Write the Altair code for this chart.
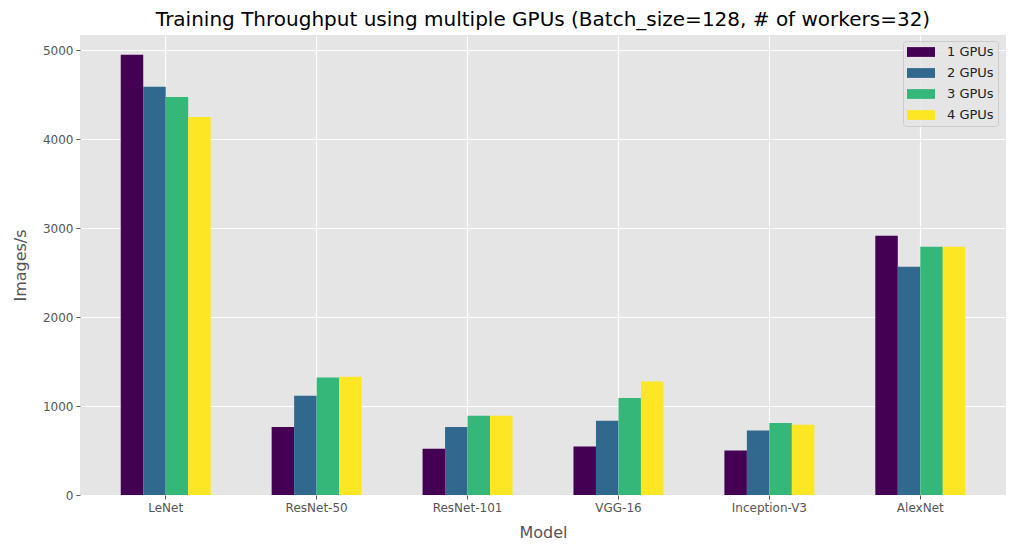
import altair as alt
import pandas as pd

# values
models = ["LeNet", "ResNet-50", "ResNet-101", "VGG-16", "Inception-V3", "AlexNet"]
gpu_labels = ["1 GPUs", "2 GPUs", "3 GPUs", "4 GPUs"]
gpu1 = [4950, 765, 520, 545, 500, 2915]
gpu2 = [4590, 1115, 765, 835, 725, 2565]
gpu3 = [4475, 1320, 890, 1090, 810, 2790]
gpu4 = [4250, 1330, 890, 1275, 790, 2790]
colors = ["#440154", "#31688e", "#35b779", "#fde725"]

rows = []
for label, series in zip(gpu_labels, [gpu1, gpu2, gpu3, gpu4]):
    for m, v in zip(models, series):
        rows.append({"Model": m, "GPUs": label, "Images/s": v})
df = pd.DataFrame(rows)

font = "DejaVu Sans"

chart = alt.Chart(df).mark_bar().encode(
    x=alt.X("Model:N", sort=models,
            scale=alt.Scale(paddingInner=0.404, paddingOuter=0.27),
            axis=alt.Axis(labelAngle=0, title="Model")),
    xOffset=alt.XOffset("GPUs:N", sort=gpu_labels),
    y=alt.Y("Images/s:Q", scale=alt.Scale(domain=[0, 5172], nice=False),
            axis=alt.Axis(values=[0, 1000, 2000, 3000, 4000, 5000], format="d",
                          title="Images/s")),
    color=alt.Color("GPUs:N", sort=gpu_labels,
                    scale=alt.Scale(domain=gpu_labels, range=colors),
                    legend=alt.Legend(title=None, orient="none", legendX=823, legendY=6,
                                      symbolType="M-1,-0.7H3V0.7H-1Z", symbolSize=196,
                                      symbolStrokeWidth=0, labelFontSize=13,
                                      labelFont=font, labelColor="#222",
                                      rowPadding=7, padding=4,
                                      fillColor="rgba(229,229,229,0.85)",
                                      strokeColor="#cccccc", cornerRadius=3,
                                      labelOffset=26)),
).properties(
    width=926,
    height=460,
    title=alt.TitleParams(
        "Training Throughput using multiple GPUs (Batch_size=128, # of workers=32)",
        fontSize=20, fontWeight="normal", font=font, color="black", offset=5),
    autosize=alt.AutoSizeParams(type="none"),
    padding={"left": 72, "top": 27, "right": 4, "bottom": 56},
).configure_view(
    fill="#e5e5e5", stroke=None
).configure_axis(
    grid=True, gridColor="white", gridWidth=1.2, domain=False,
    tickColor="#555555", tickSize=4, labelColor="#555555", labelFontSize=12,
    labelFont=font, titleFont=font, titleFontSize=16, titleColor="#555555",
    titleFontWeight="normal", labelPadding=3
).configure_axisY(
    titlePadding=14
).configure_axisX(
    titlePadding=11
)

chart.save("out.html", embed_options={"renderer": "svg", "actions": False})
